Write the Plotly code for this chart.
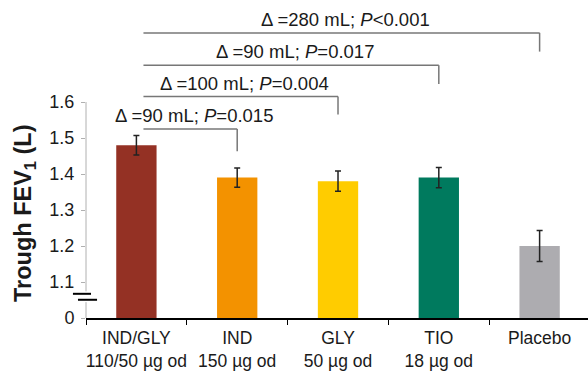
import plotly.graph_objects as go

# ---- data ----
categories = ["IND/GLY<br>110/50 µg od", "IND<br>150 µg od", "GLY<br>50 µg od",
              "TIO<br>18 µg od", "Placebo"]
fev1 = [1.48, 1.39, 1.38, 1.39, 1.20]
err = [0.027, 0.027, 0.028, 0.028, 0.043]
bar_colors = ["#943124", "#F39200", "#FFCC00", "#007A5E", "#ADACB0"]

tick_vals = [1.0, 1.1, 1.2, 1.3, 1.4, 1.5, 1.6]
tick_text = ["0", "1.1", "1.2", "1.3", "1.4", "1.5", "1.6"]

# comparisons vs IND/GLY
comp_target = [1, 2, 3, 4]
comp_level = [1.525, 1.615, 1.702, 1.792]
comp_drop = [1.463, 1.565, 1.650, 1.740]
comp_label = ["Δ =90 mL; <i>P</i>=0.015", "Δ =100 mL; <i>P</i>=0.004",
              "Δ =90 mL; <i>P</i>=0.017", "Δ =280 mL; <i>P</i><0.001"]
comp_start = 0.07

# axis break
y_base = 1.0
break_lo, break_hi = 1.0506, 1.0672
axis_gap = (1.044, 1.074)
y_top_visible = 1.6

FONT = "Liberation Sans, Arial, sans-serif"

fig = go.Figure()
fig.add_trace(go.Bar(
    x=categories, y=fev1, width=0.4,
    marker=dict(color=bar_colors, line=dict(width=0)),
    error_y=dict(type="data", array=err, visible=True, color="#222222",
                 thickness=1.5, width=3),
    showlegend=False,
))

shapes = []
# y axis line drawn manually with a break
for y0, y1 in [(y_base, axis_gap[0]), (axis_gap[1], y_top_visible)]:
    shapes.append(dict(type="line", xref="paper", yref="y", x0=0, x1=0, y0=y0, y1=y1,
                       line=dict(color="#B0B0B0", width=1)))
shapes.append(dict(type="line", xref="paper", yref="y", x0=-0.016, x1=0.022,
                   y0=break_lo, y1=break_lo, line=dict(color="#000000", width=2)))
shapes.append(dict(type="line", xref="paper", yref="y", x0=-0.026, x1=0.010,
                   y0=break_hi, y1=break_hi, line=dict(color="#000000", width=2)))

annotations = []
for tgt, lvl, drop, lab in zip(comp_target, comp_level, comp_drop, comp_label):
    shapes.append(dict(type="line", xref="x", yref="y", x0=comp_start, x1=tgt,
                       y0=lvl, y1=lvl, line=dict(color="#777777", width=1.5)))
    shapes.append(dict(type="line", xref="x", yref="y", x0=tgt, x1=tgt,
                       y0=lvl, y1=drop, line=dict(color="#777777", width=1.5)))
    annotations.append(dict(x=(comp_start + tgt) / 2, y=lvl, xref="x", yref="y",
                            text=lab, showarrow=False, xanchor="center",
                            yanchor="bottom", xshift=4, yshift=1,
                            font=dict(family=FONT, size=18.5, color="#1a1a1a")))

annotations.append(dict(x=-0.1235, y=(y_base + y_top_visible) / 2, xref="paper", yref="y",
                        text="<b>Trough FEV<sub>1</sub> (L)</b>", textangle=-90,
                        showarrow=False, xanchor="center", yanchor="middle", yshift=-3,
                        font=dict(family=FONT, size=23.5, color="#1a1a1a")))

fig.update_layout(
    width=588, height=371,
    margin=dict(l=86, r=0, t=0, b=53),
    paper_bgcolor="white", plot_bgcolor="white",
    shapes=shapes, annotations=annotations,
    font=dict(family=FONT, size=18, color="#1a1a1a"),
    xaxis=dict(type="category", range=[-0.5, 4.48], showline=True, linecolor="#000000",
               linewidth=1.5, ticks="outside", tickson="boundaries", ticklen=5,
               tickcolor="#000000", showgrid=False, zeroline=False,
               tickangle=0, automargin=False, ticklabelstandoff=3,
               tickfont=dict(family=FONT, size=17.5, color="#1a1a1a")),
    yaxis=dict(range=[y_base, y_base + 318 / 360], tickvals=tick_vals, ticktext=tick_text,
               showline=False, ticks="outside", ticklen=4, tickcolor="#B0B0B0",
               showgrid=False, zeroline=False, ticklabelstandoff=3, automargin=False,
               tickfont=dict(family=FONT, size=18, color="#1a1a1a")),
    bargap=0.6,
)

fig.write_html("out.html")
